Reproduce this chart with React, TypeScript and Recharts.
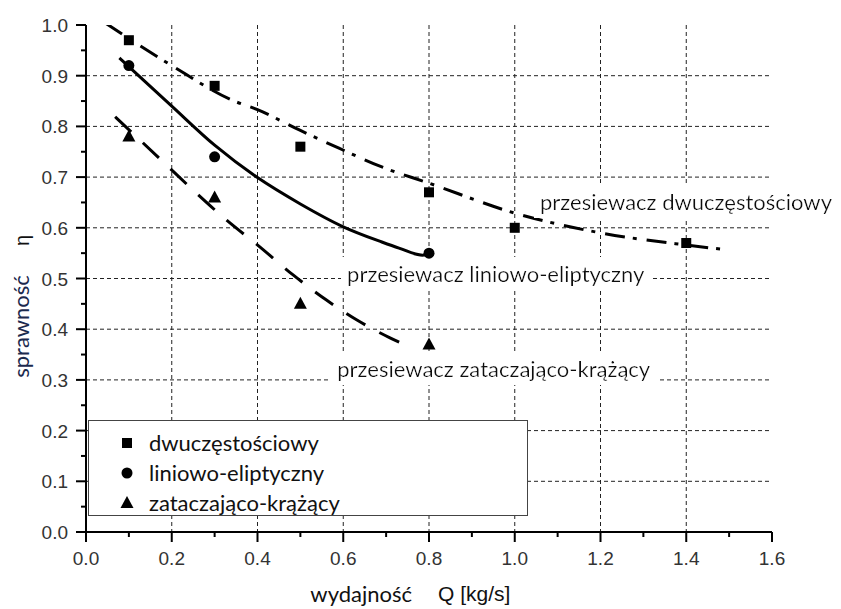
import React from 'react';
import {
  ComposedChart,
  Line,
  Scatter,
  XAxis,
  YAxis,
  CartesianGrid,
  ReferenceDot,
} from 'recharts';

// measured points
const dwuPoints = [
  { x: 0.1, y: 0.97 },
  { x: 0.3, y: 0.88 },
  { x: 0.5, y: 0.76 },
  { x: 0.8, y: 0.67 },
  { x: 1.0, y: 0.6 },
  { x: 1.4, y: 0.57 },
];
const linPoints = [
  { x: 0.1, y: 0.92 },
  { x: 0.3, y: 0.74 },
  { x: 0.8, y: 0.55 },
];
const zatPoints = [
  { x: 0.1, y: 0.78 },
  { x: 0.3, y: 0.66 },
  { x: 0.5, y: 0.45 },
  { x: 0.8, y: 0.37 },
];

// fitted curves
const dwuFit = [
  { x: 0.045, y: 1.004 },
  { x: 0.2, y: 0.92 },
  { x: 0.34, y: 0.852 },
  { x: 0.4, y: 0.833 },
  { x: 0.5, y: 0.792 },
  { x: 0.59, y: 0.757 },
  { x: 0.69, y: 0.72 },
  { x: 0.8, y: 0.688 },
  { x: 1.0, y: 0.629 },
  { x: 1.2, y: 0.59 },
  { x: 1.4, y: 0.566 },
  { x: 1.48, y: 0.558 },
];
const linFit = [
  { x: 0.078, y: 0.935 },
  { x: 0.2, y: 0.84 },
  { x: 0.3, y: 0.763 },
  { x: 0.4, y: 0.699 },
  { x: 0.5, y: 0.647 },
  { x: 0.6, y: 0.602 },
  { x: 0.69, y: 0.572 },
  { x: 0.73, y: 0.56 },
  { x: 0.785, y: 0.546 },
  { x: 0.8, y: 0.55 },
];
const zatFit = [
  { x: 0.068, y: 0.819 },
  { x: 0.18, y: 0.73 },
  { x: 0.254, y: 0.671 },
  { x: 0.328, y: 0.615 },
  { x: 0.406, y: 0.562 },
  { x: 0.483, y: 0.507 },
  { x: 0.56, y: 0.458 },
  { x: 0.632, y: 0.418 },
  { x: 0.709, y: 0.383 },
  { x: 0.756, y: 0.365 },
];

const xTicks = [0, 0.1, 0.2, 0.3, 0.4, 0.5, 0.6, 0.7, 0.8, 0.9, 1.0, 1.1, 1.2, 1.3, 1.4, 1.5, 1.6];
const yTicks = [
  0, 0.05, 0.1, 0.15, 0.2, 0.25, 0.3, 0.35, 0.4, 0.45, 0.5, 0.55, 0.6, 0.65, 0.7, 0.75, 0.8, 0.85,
  0.9, 0.95, 1.0,
];
const xGrid = [0.2, 0.4, 0.6, 0.8, 1.0, 1.2, 1.4];
const yGrid = [0.1, 0.2, 0.3, 0.4, 0.5, 0.6, 0.7, 0.8, 0.9];

const notes = [
  { x: 1.059, y: 0.649, text: 'przesiewacz dwuczęstościowy' },
  { x: 0.609, y: 0.507, text: 'przesiewacz liniowo-eliptyczny' },
  { x: 0.586, y: 0.32, text: 'przesiewacz zataczająco-krążący' },
];
const legendNames = ['dwuczęstościowy', 'liniowo-eliptyczny', 'zataczająco-krążący'];

const SANS = 'Lato, "Open Sans", sans-serif';
const ARIAL = '"Liberation Sans", Arial, sans-serif';

const XTick = (props: any) => {
  const { x, y, payload } = props;
  const v = payload.value;
  const major = Math.round(v * 10) % 2 === 0;
  return (
    <g>
      <line x1={x} x2={x} y1={y} y2={y + (major ? 10 : 5)} stroke="#000" strokeWidth={2} />
      {major && (
        <text x={x} y={y + 33} textAnchor="middle" fontFamily={ARIAL} fontSize={19} fill="#333">
          {v.toFixed(1)}
        </text>
      )}
    </g>
  );
};

const YTick = (props: any) => {
  const { x, y, payload } = props;
  const v = payload.value;
  const major = Math.round(v * 100) % 10 === 0;
  return (
    <g>
      <line x1={x - (major ? 10 : 5)} x2={x} y1={y} y2={y} stroke="#000" strokeWidth={2} />
      {major && (
        <text x={x - 18} y={y + 7} textAnchor="end" fontFamily={ARIAL} fontSize={19} fill="#333">
          {v.toFixed(1)}
        </text>
      )}
    </g>
  );
};

const square = (p: any) => <rect x={p.cx - 5} y={p.cy - 5} width={10} height={10} fill="#000" />;
const circle = (p: any) => <circle cx={p.cx} cy={p.cy} r={5.5} fill="#000" />;
const triangle = (p: any) => (
  <polygon
    points={`${p.cx - 6.5},${p.cy + 5} ${p.cx + 6.5},${p.cy + 5} ${p.cx},${p.cy - 7}`}
    fill="#000"
  />
);

const Note = ({ cx, cy, text }: any) => (
  <text x={cx} y={cy + 7} fontFamily={SANS} fontSize={22} fill="#111" filter="url(#whitebg)">
    {text}
  </text>
);

const YTitle = ({ viewBox }: any) => {
  const cy = viewBox.y + viewBox.height / 2;
  return (
    <g>
      <text
        transform={`translate(29, ${cy + 48}) rotate(-90)`}
        textAnchor="middle"
        fontFamily={SANS}
        fontSize={22}
        fill="#1b2a4e"
      >
        sprawność
      </text>
      <text
        transform={`translate(29, ${cy - 38}) rotate(-90)`}
        textAnchor="middle"
        fontFamily={ARIAL}
        fontSize={20}
        fill="#111"
      >
        η
      </text>
    </g>
  );
};

const XTitle = ({ viewBox }: any) => {
  const cx = viewBox.x + viewBox.width / 2;
  return (
    <g>
      <text x={cx - 17} y={602} textAnchor="end" fontFamily={SANS} fontSize={22} fill="#111">
        wydajność
      </text>
      <text x={cx + 9} y={601} fontFamily={ARIAL} fontSize={21} fill="#111">
        Q [kg/s]
      </text>
    </g>
  );
};

const markers = [
  <rect key="s" x={-5} y={-5} width={10} height={10} fill="#000" />,
  <circle key="c" cx={0} cy={0} r={5.5} fill="#000" />,
  <polygon key="t" points="-6.5,5 6.5,5 0,-7" fill="#000" />,
];

export default function App() {
  return (
    <div style={{ position: 'absolute', left: 0, top: 0, width: 841, height: 609, background: '#fff' }}>
      <ComposedChart
        width={841}
        height={609}
        margin={{ top: 25, right: 69, left: 16, bottom: 0 }}
      >
        <defs>
          <filter id="whitebg" x="-0.02" y="-0.1" width="1.04" height="1.2">
            <feFlood floodColor="#fff" />
            <feComposite in="SourceGraphic" operator="over" />
          </filter>
        </defs>
        <CartesianGrid
          horizontalValues={yGrid}
          verticalValues={xGrid}
          stroke="#222"
          strokeDasharray="4 3"
          strokeWidth={1}
        />
        <XAxis
          type="number"
          dataKey="x"
          domain={[0, 1.6]}
          ticks={xTicks}
          interval={0}
          tickSize={0}
          tickMargin={0}
          tickLine={false}
          tick={<XTick />}
          axisLine={{ stroke: '#000', strokeWidth: 2 }}
          height={77}
          allowDataOverflow
          label={<XTitle />}
        />
        <YAxis
          type="number"
          dataKey="y"
          domain={[0, 1]}
          ticks={yTicks}
          interval={0}
          tickSize={0}
          tickMargin={0}
          tickLine={false}
          tick={<YTick />}
          axisLine={{ stroke: '#000', strokeWidth: 2 }}
          width={70}
          allowDataOverflow
          label={<YTitle />}
        />
        {notes.map((n) => (
          <ReferenceDot
            key={n.text}
            x={n.x}
            y={n.y}
            r={0}
            shape={(p: any) => <Note cx={p.cx} cy={p.cy} text={n.text} />}
          />
        ))}
        <Line
          data={dwuFit}
          dataKey="y"
          type="monotone"
          stroke="#000"
          strokeWidth={3}
          strokeDasharray="20 8 4 10"
          dot={false}
          activeDot={false}
          isAnimationActive={false}
        />
        <Line
          data={linFit}
          dataKey="y"
          type="monotone"
          stroke="#000"
          strokeWidth={3}
          dot={false}
          activeDot={false}
          isAnimationActive={false}
        />
        <Line
          data={zatFit}
          dataKey="y"
          type="monotone"
          stroke="#000"
          strokeWidth={3}
          strokeDasharray="22 16"
          dot={false}
          activeDot={false}
          isAnimationActive={false}
        />
        <Scatter data={dwuPoints} dataKey="y" shape={square} isAnimationActive={false} />
        <Scatter data={linPoints} dataKey="y" shape={circle} isAnimationActive={false} />
        <Scatter data={zatPoints} dataKey="y" shape={triangle} isAnimationActive={false} />
      </ComposedChart>
      <div
        style={{
          position: 'absolute',
          left: 88,
          top: 420,
          width: 438,
          height: 94,
          border: '1px solid #444',
          background: '#fff',
        }}
      >
        {legendNames.map((name, i) => (
          <div
            key={name}
            style={{
              position: 'absolute',
              left: 0,
              top: 7 + i * 30,
              height: 30,
              display: 'flex',
              alignItems: 'center',
            }}
          >
            <svg width={60} height={30} style={{ display: 'block' }}>
              <g transform="translate(38,15)">{markers[i]}</g>
            </svg>
            <span style={{ fontFamily: SANS, fontSize: 22, color: '#111', lineHeight: '30px' }}>
              {name}
            </span>
          </div>
        ))}
      </div>
    </div>
  );
}
